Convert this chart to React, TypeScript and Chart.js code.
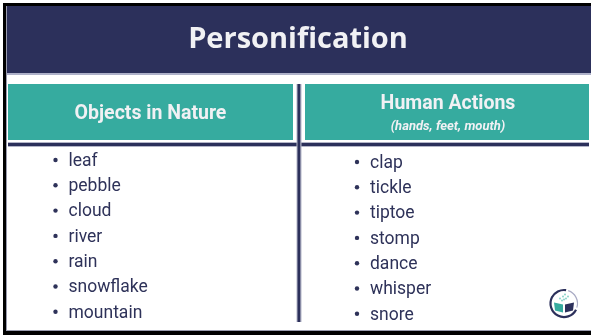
import React, { useEffect, useRef } from "react";
import { Chart, registerables } from "chart.js";

Chart.register(...registerables);

const title = "Personification";
const columnHeaders = ["Objects in Nature", "Human Actions"];
const columnSubHeaders = ["", "(hands, feet, mouth)"];
const natureObjects = ["leaf", "pebble", "cloud", "river", "rain", "snowflake", "mountain"];
const humanActions = ["clap", "tickle", "tiptoe", "stomp", "dance", "whisper", "snore"];

const W = 591;
const H = 335;
const NAVY = "#2c305b";
const TEAL = "#36ab9f";
const TEXT = "#2e3259";
const LIGHT = "#f1f1f4";

// layout constants (pixels)
const ROW_GAP = 25.3;
const LEFT_BULLET_X = 55.5;
const RIGHT_BULLET_X = 357;
const LEFT_FIRST_Y = 160;
const RIGHT_FIRST_Y = 162;
const TEXT_OFFSET = 13;

const tablePlugin = {
  id: "tableDecor",
  beforeDatasetsDraw(chart: any) {
    const ctx = chart.ctx as CanvasRenderingContext2D;
    ctx.save();
    ctx.fillStyle = "#ffffff";
    ctx.fillRect(0, 0, W, H);
    // outer black frame
    ctx.fillStyle = "#000000";
    ctx.fillRect(3, 3, W - 3, 3);
    ctx.fillRect(3, 3, 3, H - 3);
    ctx.fillRect(3, 331, W - 3, 4);
    // gray inner line
    ctx.fillStyle = "#9a9cae";
    ctx.fillRect(6, 6, 1, 325);
    ctx.fillRect(6, 330, W - 6, 1);
    // header band
    ctx.fillStyle = NAVY;
    ctx.fillRect(7, 6, W - 7, 67);
    ctx.fillStyle = "#aeb1c9";
    ctx.fillRect(7, 73, W - 7, 2);
    // title
    ctx.fillStyle = LIGHT;
    ctx.font = "bold 29px 'Open Sans'";
    ctx.textAlign = "center";
    ctx.textBaseline = "alphabetic";
    ctx.fillText(title, 298, 48);
    // teal header cells
    ctx.fillStyle = TEAL;
    ctx.fillRect(8, 84, 285, 56);
    ctx.fillRect(305, 84, 284, 56);
    // column header text
    ctx.fillStyle = LIGHT;
    ctx.font = "bold 19.5px Roboto";
    ctx.fillText(columnHeaders[0], 150.5, 118.5);
    ctx.fillText(columnHeaders[1], 448, 109);
    ctx.font = "italic bold 13px Roboto";
    if (columnSubHeaders[1]) ctx.fillText(columnSubHeaders[1], 448, 130);
    // navy horizontal rule
    ctx.fillStyle = "#b3b5c8";
    ctx.fillRect(8, 142, 581, 5);
    ctx.fillStyle = NAVY;
    ctx.fillRect(8, 143, 581, 3);
    // vertical divider
    ctx.fillStyle = "#b3b5c8";
    ctx.fillRect(296.5, 84, 5, 238);
    ctx.fillStyle = NAVY;
    ctx.fillRect(297.5, 84, 2.8, 238);
    ctx.restore();
  },
  afterDatasetsDraw(chart: any) {
    const ctx = chart.ctx as CanvasRenderingContext2D;
    ctx.save();
    ctx.fillStyle = TEXT;
    ctx.font = "17.5px Roboto";
    ctx.textAlign = "left";
    ctx.textBaseline = "alphabetic";
    chart.data.datasets.forEach((ds: any, di: number) => {
      const meta = chart.getDatasetMeta(di);
      meta.data.forEach((pt: any, i: number) => {
        ctx.fillText(ds.labelsText[i], pt.x + TEXT_OFFSET, pt.y + 5.8);
      });
    });
    // logo
    const cx = 564, cy = 303.5, r = 13.5;
    ctx.lineWidth = 2.2;
    ctx.strokeStyle = NAVY;
    ctx.beginPath();
    ctx.arc(cx, cy, r, Math.PI * 0.15, Math.PI * 1.55);
    ctx.stroke();
    ctx.strokeStyle = "#a9abc4";
    ctx.lineWidth = 1.2;
    ctx.beginPath();
    ctx.arc(cx, cy, r, Math.PI * 1.6, Math.PI * 2.1);
    ctx.stroke();
    // book
    ctx.fillStyle = TEAL;
    ctx.beginPath();
    ctx.moveTo(cx - 10, cy - 1);
    ctx.lineTo(cx - 1, cy + 1);
    ctx.lineTo(cx - 1, cy + 9);
    ctx.lineTo(cx - 9, cy + 7);
    ctx.closePath();
    ctx.fill();
    ctx.fillStyle = NAVY;
    ctx.beginPath();
    ctx.moveTo(cx + 1, cy + 1);
    ctx.lineTo(cx + 10, cy - 1);
    ctx.lineTo(cx + 9, cy + 7);
    ctx.lineTo(cx + 1, cy + 9);
    ctx.closePath();
    ctx.fill();
    ctx.fillStyle = "#7fcfc4";
    const dots = [[-4, -5], [-1, -7], [2, -5], [-2, -3], [1, -9], [4, -7], [0, -4]];
    dots.forEach(([dx, dy]) => {
      ctx.beginPath();
      ctx.arc(cx + dx, cy + dy, 0.9, 0, Math.PI * 2);
      ctx.fill();
    });
    ctx.restore();
  },
};

export default function App() {
  const ref = useRef<HTMLCanvasElement | null>(null);
  useEffect(() => {
    document.body.style.margin = "0";
    if (!ref.current) return;
    const chart = new Chart(ref.current, {
      type: "scatter",
      data: {
        datasets: [
          {
            label: columnHeaders[0],
            labelsText: natureObjects,
            data: natureObjects.map((_, i) => ({ x: LEFT_BULLET_X, y: LEFT_FIRST_Y + i * ROW_GAP })),
            pointRadius: 2.2,
            pointBackgroundColor: TEXT,
            pointBorderWidth: 0,
            clip: false,
          } as any,
          {
            label: columnHeaders[1],
            labelsText: humanActions,
            data: humanActions.map((_, i) => ({ x: RIGHT_BULLET_X, y: RIGHT_FIRST_Y + i * ROW_GAP })),
            pointRadius: 2.2,
            pointBackgroundColor: TEXT,
            pointBorderWidth: 0,
            clip: false,
          } as any,
        ],
      },
      options: {
        animation: false,
        responsive: false,
        devicePixelRatio: 1,
        layout: { padding: 0, autoPadding: false },
        plugins: { legend: { display: false }, tooltip: { enabled: false } },
        events: [],
        scales: {
          x: { type: "linear", min: 0, max: W, display: false },
          y: { type: "linear", min: 0, max: H, reverse: true, display: false },
        },
      },
      plugins: [tablePlugin],
    });
    return () => chart.destroy();
  }, []);
  return <canvas ref={ref} width={W} height={H} style={{ display: "block" }} />;
}
